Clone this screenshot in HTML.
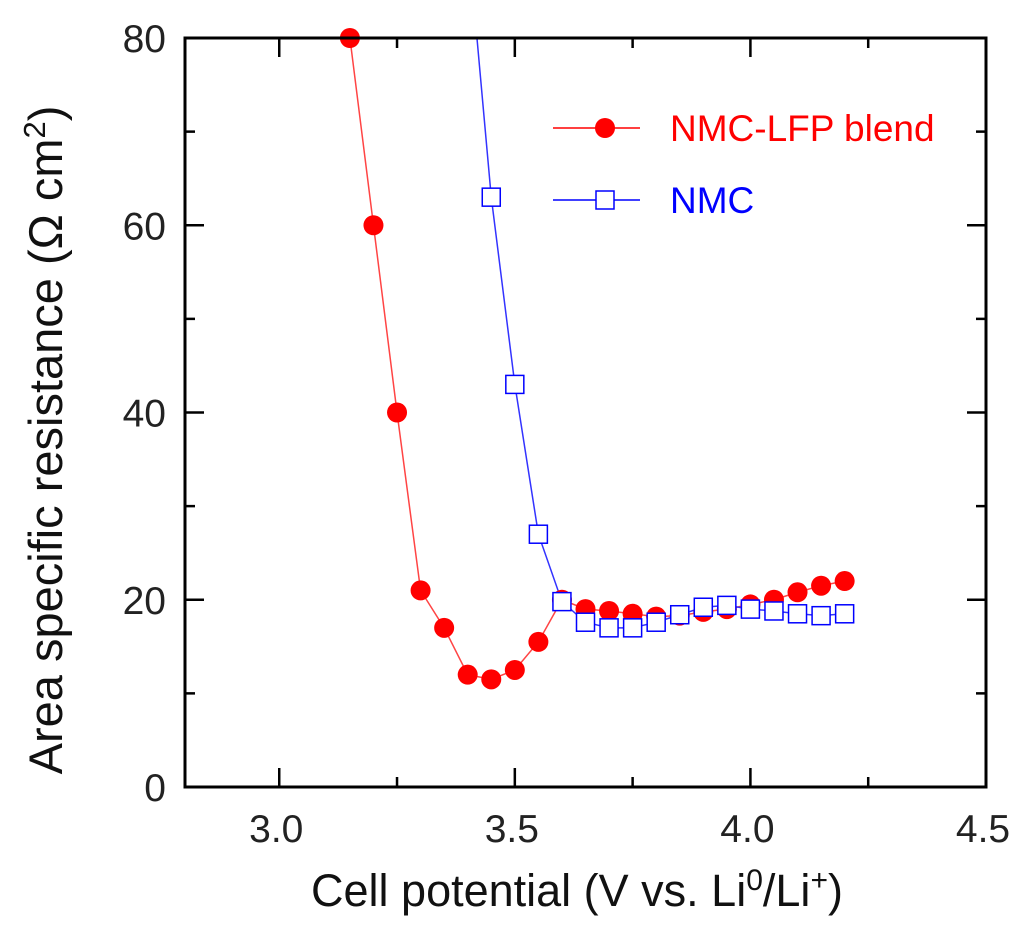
<!DOCTYPE html>
<html><head><meta charset="utf-8"><style>
body{margin:0;background:#fff}
svg{display:block;font-family:"Liberation Sans",sans-serif}
</style></head><body>
<svg id="chart" width="1024" height="938">
<defs><clipPath id="clip"><rect x="185" y="38" width="801" height="749"/></clipPath></defs>
<g id="ticks"></g>
<g id="series" clip-path="url(#clip)"></g>
<g id="markers"></g>
<rect x="185" y="38" width="801" height="749" fill="none" stroke="#000" stroke-width="3"/>
<text x="577" y="906" font-size="45" text-anchor="middle" fill="#111">Cell potential (V vs. Li<tspan font-size="30" dy="-16">0</tspan><tspan dy="16">/Li</tspan><tspan font-size="30" dy="-16">+</tspan><tspan dy="16">)</tspan></text>
<text transform="translate(62,440) rotate(-90)" font-size="47" text-anchor="middle" fill="#111">Area specific resistance (Ω cm<tspan font-size="31" dy="-17">2</tspan><tspan dy="17">)</tspan></text>
<g>
<line x1="553" y1="128" x2="640" y2="128" stroke="#f00" stroke-width="1.5"/>
<circle cx="605" cy="128" r="10" fill="#f00"/>
<text x="670" y="141" font-size="37" fill="#f00">NMC-LFP blend</text>
<line x1="553" y1="200" x2="640" y2="200" stroke="#00f" stroke-width="1.5"/>
<rect x="596" y="191" width="18" height="18" fill="#fff" stroke="#00f" stroke-width="1.5"/>
<text x="670" y="213" font-size="37" fill="#00f">NMC</text>
</g>
</svg>
<script>
const blendX=[3.15,3.2,3.25,3.3,3.35,3.4,3.45,3.5,3.55,3.6,3.65,3.7,3.75,3.8,3.85,3.9,3.95,4.0,4.05,4.1,4.15,4.2];
const blendY=[80,60,40,21,17,12,11.5,12.5,15.5,20,19,18.8,18.5,18.2,18.3,18.7,19,19.5,20,20.8,21.5,22];
const nmcX=[3.4,3.45,3.5,3.55,3.6,3.65,3.7,3.75,3.8,3.85,3.9,3.95,4.0,4.05,4.1,4.15,4.2];
const nmcY=[91,63,43,27,19.8,17.6,17,17,17.6,18.4,19.2,19.4,19,18.8,18.5,18.3,18.5];
const xTicks=[3.0,3.5,4.0,4.5];
const xTickLabels=["3.0","3.5","4.0","4.5"];
const yTicks=[0,20,40,60,80];
const yTickLabels=["0","20","40","60","80"];
const X0=185,X1=986,Y0=787,Y1=38,xmin=2.8,xmax=4.5,ymin=0,ymax=80;
const sx=v=>X0+(v-xmin)/(xmax-xmin)*(X1-X0);
const sy=v=>Y0-(v-ymin)/(ymax-ymin)*(Y0-Y1);
const NS="http://www.w3.org/2000/svg";
function mk(tag,attrs,parent){const e=document.createElementNS(NS,tag);for(const k in attrs)e.setAttribute(k,attrs[k]);parent.appendChild(e);return e;}
const tg=document.getElementById('ticks'),sg=document.getElementById('series'),mg=document.getElementById('markers');
for(let v=2.75;v<=4.5001;v+=0.25){if(v<xmin)continue;const major=Math.abs(v*2-Math.round(v*2))<1e-6;const L=major?19:10;const x=sx(v);
const a=mk('line',{x1:x,y1:Y0,x2:x,y2:Y0-L,stroke:'#000','stroke-width':2.5},tg);


const b=mk('line',{x1:x,y1:Y1,x2:x,y2:Y1+L,stroke:'#000','stroke-width':2.5},tg);

}
xTicks.forEach((v,i)=>{const t=mk('text',{x:sx(v)-3,y:842,'font-size':39,'text-anchor':'middle',fill:'#222'},tg);t.textContent=xTickLabels[i];

});
for(let v=0;v<=80;v+=10){const L=v%20==0?19:10;const y=sy(v);
const a=mk('line',{x1:X0,y1:y,x2:X0+L,y2:y,stroke:'#000','stroke-width':2.5},tg);


const b=mk('line',{x1:X1,y1:y,x2:X1-L,y2:y,stroke:'#000','stroke-width':2.5},tg);

}
yTicks.forEach((v,i)=>{const t=mk('text',{x:166,y:sy(v)+14,'font-size':39,'text-anchor':'end',fill:'#222'},tg);t.textContent=yTickLabels[i];

});
const pb=mk('polyline',{points:blendX.map((x,i)=>sx(x)+','+sy(blendY[i])).join(' '),fill:'none',stroke:'#f44','stroke-width':1.5},sg);


const pn=mk('polyline',{points:nmcX.map((x,i)=>sx(x)+','+sy(nmcY[i])).join(' '),fill:'none',stroke:'#33f','stroke-width':1.5},sg);


blendX.forEach((x,i)=>{if(blendY[i]>ymax)return;const c=mk('circle',{cx:sx(x),cy:sy(blendY[i]),r:10,fill:'#f00'},mg);

});
nmcX.forEach((x,i)=>{if(nmcY[i]>ymax)return;const r=mk('rect',{x:sx(x)-9,y:sy(nmcY[i])-9,width:18,height:18,fill:'#fff',stroke:'#00f','stroke-width':1.5},mg);

});
</script>
</body></html>
